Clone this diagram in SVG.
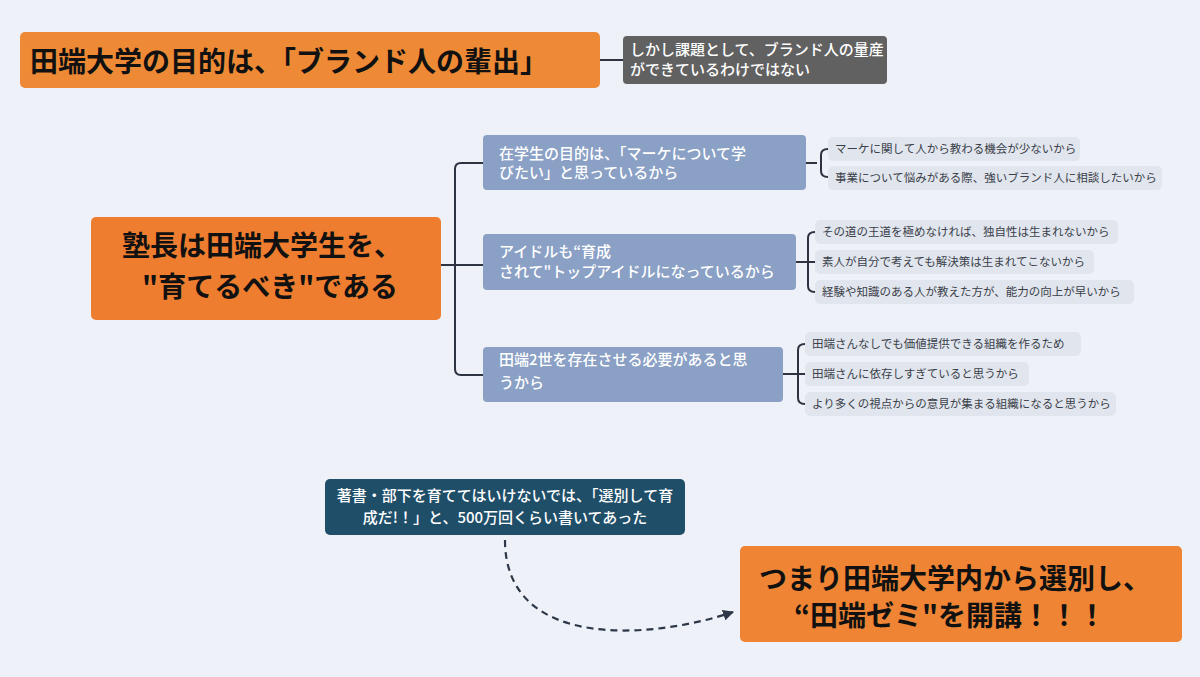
<svg xmlns="http://www.w3.org/2000/svg" width="1200" height="677" viewBox="0 0 1200 677">
<style>
text{font-family:"Noto Sans CJK JP","Noto Sans",sans-serif}
.big{font-size:28px;font-weight:700;fill:#111}
.mid{font-size:15px;fill:#fff;font-weight:500}
.leaf{font-size:11.5px;fill:#3a3f4a}
.leafbox{fill:#e1e5ed}
.child{fill:#8aa0c5}
.conn{fill:none;stroke:#2d3340;stroke-width:2}
</style>
<defs>
<marker id="arr" viewBox="0 0 10 10" refX="9" refY="5" markerWidth="5" markerHeight="5" orient="auto"><path d="M0,0 L10,5 L0,10 z" fill="#2d3748"/></marker>
</defs>
<rect width="1200" height="677" fill="#eef2f8"/>
<g id="connectors">
<path class="conn" d="M600,60 H623"/>
<path class="conn" d="M441,265 H455"/>
<path class="conn" d="M483,163 H461 Q455,163 455,169 V369 Q455,375 461,375 H483"/>
<path class="conn" d="M455,265 H483"/>
<path class="conn" d="M806,163 H817"/>
<path class="conn" d="M828,149 Q821,149 821,155 V171 Q821,177 828,177"/>
<path class="conn" d="M796,262 H815"/>
<path class="conn" d="M815,232 Q808,232 808,238 V286 Q808,292 815,292"/>
<path class="conn" d="M783,374 H805"/>
<path class="conn" d="M805,344 Q798,344 798,350 V398 Q798,404 805,404"/>
<path d="M505,540 C505,650 650,640 733,612" fill="none" stroke="#2d3748" stroke-width="2.2" stroke-dasharray="7 5" marker-end="url(#arr)"/>
</g>
<g id="n-title">
<rect x="20" y="32" width="580" height="56" rx="5" fill="#ee8a36"/>
<text class="big" x="30" y="72" font-size="32">田端大学の目的は、「ブランド人の輩出」</text>
</g>
<g id="n-issue">
<rect x="623" y="36" width="264" height="48" rx="4" fill="#616161"/>
<text class="mid" x="630" y="55" font-size="14">しかし課題として、ブランド人の量産</text>
<text class="mid" x="630" y="75" font-size="14">ができているわけではない</text>
</g>
<g id="n-main">
<rect x="91" y="217" width="350" height="103" rx="5" fill="#ef7d2f"/>
<text class="big" x="262" y="256" text-anchor="middle">塾長は田端大学生を、</text>
<text class="big" x="270" y="297" text-anchor="middle">"育てるべき"である</text>
</g>
<g id="n-c1">
<rect class="child" x="483" y="135" width="323" height="55" rx="4"/>
<text class="mid" x="499" y="159">在学生の目的は、「マーケについて学</text>
<text class="mid" x="499" y="178">びたい」と思っているから</text>
</g>
<g id="n-c2">
<rect class="child" x="483" y="234" width="313" height="56" rx="4"/>
<text class="mid" x="499" y="257">アイドルも“育成</text>
<text class="mid" x="499" y="277">されて"トップアイドルになっているから</text>
</g>
<g id="n-c3">
<rect class="child" x="483" y="347" width="300" height="55" rx="4"/>
<text class="mid" x="499" y="365">田端2世を存在させる必要があると思</text>
<text class="mid" x="499" y="388">うから</text>
</g>
<g id="l1a"><rect class="leafbox" x="828" y="137" width="252" height="24" rx="5"/><text class="leaf" x="835" y="153">マーケに関して人から教わる機会が少ないから</text></g>
<g id="l1b"><rect class="leafbox" x="828" y="166" width="334" height="24" rx="5"/><text class="leaf" x="835" y="182">事業について悩みがある際、強いブランド人に相談したいから</text></g>
<g id="l2a"><rect class="leafbox" x="815" y="220" width="303" height="24" rx="5"/><text class="leaf" x="822" y="236">その道の王道を極めなければ、独自性は生まれないから</text></g>
<g id="l2b"><rect class="leafbox" x="815" y="250" width="279" height="24" rx="5"/><text class="leaf" x="822" y="266">素人が自分で考えても解決策は生まれてこないから</text></g>
<g id="l2c"><rect class="leafbox" x="815" y="280" width="319" height="24" rx="5"/><text class="leaf" x="822" y="296">経験や知識のある人が教えた方が、能力の向上が早いから</text></g>
<g id="l3a"><rect class="leafbox" x="805" y="332" width="276" height="24" rx="5"/><text class="leaf" x="812" y="348">田端さんなしでも価値提供できる組織を作るため</text></g>
<g id="l3b"><rect class="leafbox" x="805" y="362" width="224" height="24" rx="5"/><text class="leaf" x="812" y="378">田端さんに依存しすぎていると思うから</text></g>
<g id="l3c"><rect class="leafbox" x="805" y="392" width="311" height="24" rx="5"/><text class="leaf" x="812" y="408">より多くの視点からの意見が集まる組織になると思うから</text></g>
<g id="n-book">
<rect x="325" y="479" width="360" height="56" rx="5" fill="#1f4e69"/>
<text class="mid" x="505" y="501" text-anchor="middle">著書・部下を育ててはいけないでは、「選別して育</text>
<text class="mid" x="505" y="523" text-anchor="middle">成だ!！」と、500万回くらい書いてあった</text>
</g>
<g id="n-concl">
<rect x="740" y="546" width="442" height="96" rx="5" fill="#ee8434"/>
<text class="big" x="955" y="589" text-anchor="middle" font-weight="500">つまり田端大学内から選別し、</text>
<text class="big" x="950" y="626" text-anchor="middle" font-weight="500">“田端ゼミ"を開講！！！</text>
</g>
</svg>
